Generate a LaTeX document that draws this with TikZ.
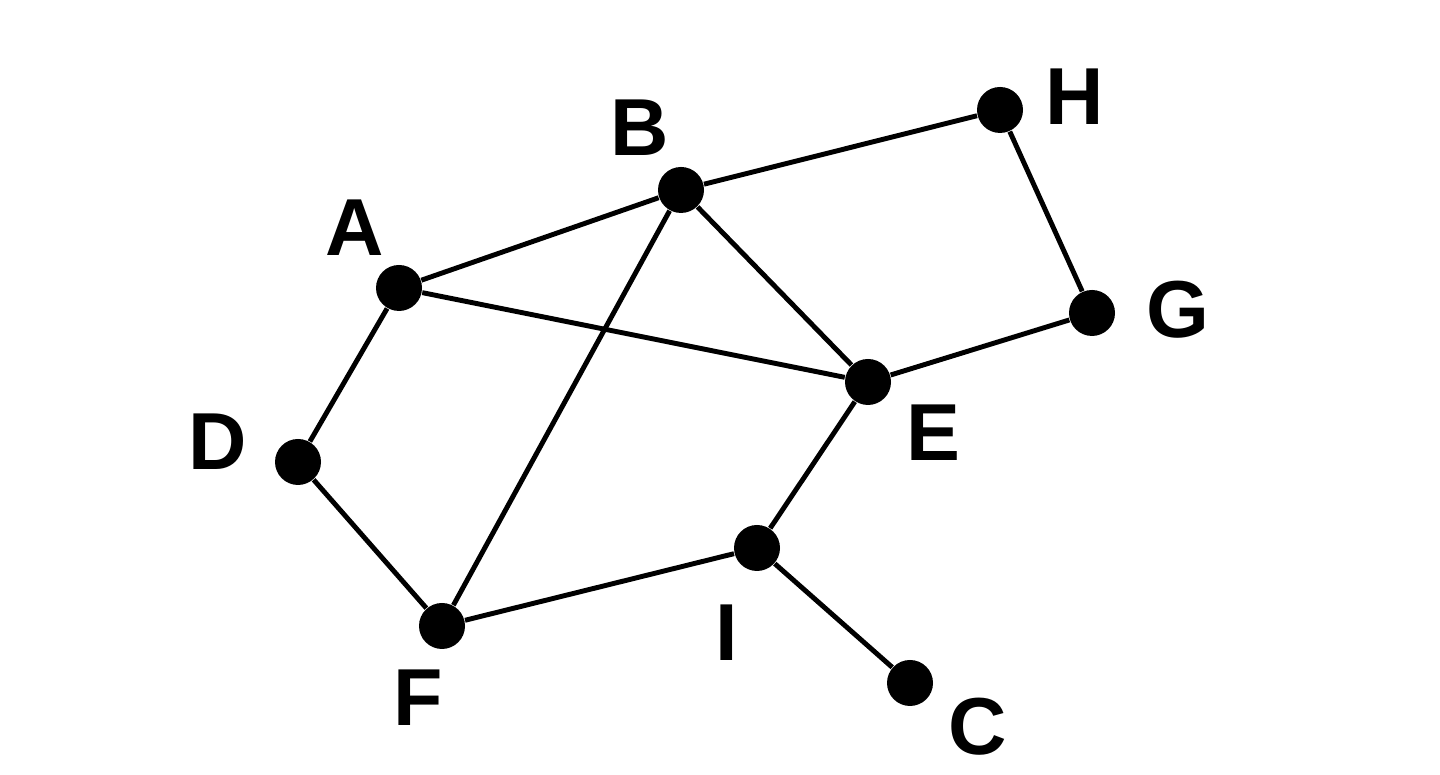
\documentclass[tikz,border=0pt]{standalone}
\usepackage{fontspec}
\setmainfont{Liberation Sans}
\usetikzlibrary{positioning}

\tikzset{
    vertex/.style={circle, fill=black, draw=none, inner sep=0pt, minimum size=0.46cm},
    vlabel/.style={inner sep=0pt, on grid, font=\fontsize{23}{23}\selectfont\bfseries},
    link/.style={line width=1.4pt}
}

\begin{document}
\begin{tikzpicture}
    \useasboundingbox (0,0) rectangle (14.4,7.75);
    \node[vertex] (A) at (3.99,4.87) {};
    \node[vertex] (B) at (6.81,5.85) {};
    \node[vertex] (H) at (10.00,6.65) {};
    \node[vertex] (G) at (10.92,4.62) {};
    \node[vertex] (E) at (8.68,3.93) {};
    \node[vertex] (D) at (2.98,3.13) {};
    \node[vertex] (F) at (4.42,1.49) {};
    \node[vertex] (I) at (7.57,2.27) {};
    \node[vertex] (C) at (9.10,0.92) {};
    % labels
    \node[vlabel, above left=0.60 and 0.44 of A] (labA) {A};
    \node[vlabel, above left=0.62 and 0.41 of B] (labB) {B};
    \node[vlabel, above right=0.13 and 0.75 of H] (labH) {H};
    \node[vlabel, above right=0.03 and 0.86 of G] (labG) {G};
    \node[vlabel, below right=0.51 and 0.65 of E] (labE) {E};
    \node[vlabel, above left=0.20 and 0.80 of D] (labD) {D};
    \node[vlabel, below left=0.72 and 0.24 of F] (labF) {F};
    \node[vlabel, below left=0.85 and 0.30 of I] (labI) {I};
    \node[vlabel, below right=0.44 and 0.68 of C] (labC) {C};
    % edges
    \draw[link] (A) edge (B);
    \draw[link] (A) edge (E);
    \draw[link] (A) edge (D);
    \draw[link] (B) edge (H);
    \draw[link] (B) edge (E);
    \draw[link] (B) edge (F);
    \draw[link] (H) edge (G);
    \draw[link] (G) edge (E);
    \draw[link] (E) edge (I);
    \draw[link] (D) edge (F);
    \draw[link] (F) edge (I);
    \draw[link] (I) edge (C);
\end{tikzpicture}
\end{document}
